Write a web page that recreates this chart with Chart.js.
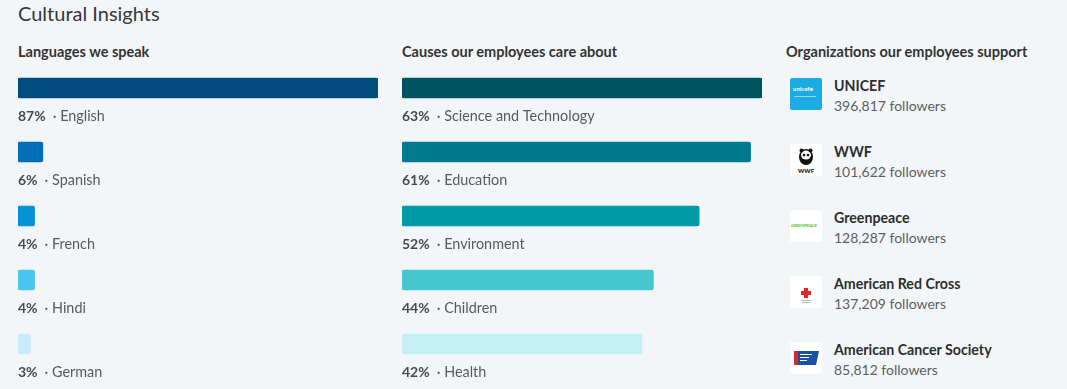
<!DOCTYPE html>
<html>
<head>
<meta charset="utf-8">
<script src="https://cdn.jsdelivr.net/npm/chart.js@4"></script>
<style>
  html, body { margin:0; padding:0; }
  body { width:1067px; height:389px; background:#f3f6f8; position:relative; overflow:hidden; font-family: Lato, "Noto Sans", sans-serif; color:#333; }
  .title { position:absolute; left:18px; top:0px; font-size:20px; line-height:26px; color:#383838; }
  .hdr { position:absolute; top:42px; font-size:14.5px; line-height:20px; font-weight:700; color:#333; }
  .chartbox { position:absolute; top:56px; width:360px; height:333px; }
  .org { position:absolute; left:790px; width:270px; height:40px; }
  .logo { position:absolute; left:0; top:0; width:32px; height:32px; background:#fff; border-radius:2px; overflow:hidden; }
  .oname { position:absolute; left:44px; top:-2px; font-size:14.2px; font-weight:700; line-height:20px; color:#2e2e2e; white-space:nowrap; }
  .ofol { position:absolute; left:44px; top:18px; font-size:14px; line-height:20px; color:#5e5e5e; white-space:nowrap; }
</style>
</head>
<body>
<div class="title">Cultural Insights</div>
<div class="hdr" style="left:18px">Languages we speak</div>
<div class="hdr" style="left:402px">Causes our employees care about</div>
<div class="hdr" style="left:786px">Organizations our employees support</div>
<div class="chartbox" style="left:18px"><canvas id="lang"></canvas></div>
<div class="chartbox" style="left:402px"><canvas id="cause"></canvas></div>
<div id="orgs"></div>
<script>
// ---- data ----
const languageNames = ['English', 'Spanish', 'French', 'Hindi', 'German'];
const languageShares = [87, 6, 4, 4, 3];
const causeNames = ['Science and Technology', 'Education', 'Environment', 'Children', 'Health'];
const causeShares = [63, 61, 52, 44, 42];
const orgNames = ['UNICEF', 'WWF', 'Greenpeace', 'American Red Cross', 'American Cancer Society'];
const orgFollowers = ['396,817', '101,622', '128,287', '137,209', '85,812'];

// ---- styles ----
const languageColors = ['#004b7f', '#006fb8', '#0392d3', '#47c6ef', '#c6ecfd'];
const causeColors = ['#005462', '#007a8c', '#0099a6', '#47c8d0', '#c4eff4'];
const FONT = 'Lato, "Noto Sans", sans-serif';

const labelPlugin = {
  id: 'barLabels',
  afterDatasetsDraw(chart) {
    const ctx = chart.ctx;
    const meta = chart.getDatasetMeta(0);
    const xs = chart.scales.x;
    const names = chart.data.labels;
    const vals = chart.data.datasets[0].data;
    ctx.save();
    ctx.textBaseline = 'middle';
    meta.data.forEach((bar, i) => {
      const y = bar.y + 28;
      const x = xs.left;
      ctx.font = '700 14px ' + FONT;
      ctx.fillStyle = '#4a4a4a';
      const p = vals[i] + '%';
      ctx.fillText(p, x, y);
      const w = ctx.measureText(p).width;
      ctx.font = '400 14.4px ' + FONT;
      ctx.fillStyle = '#5a5a5a';
      ctx.fillText('\u00b7 ' + names[i], x + w + 7, y);
    });
    ctx.restore();
  }
};

function makeChart(id, names, vals, colors) {
  return new Chart(document.getElementById(id), {
    type: 'bar',
    data: {
      labels: names,
      datasets: [{ data: vals, backgroundColor: colors, barThickness: 20, borderRadius: 2, borderSkipped: false }]
    },
    options: {
      indexAxis: 'y',
      responsive: true,
      maintainAspectRatio: false,
      animation: false,
      events: [],
      layout: { padding: { left: 0, right: 0, top: 0, bottom: 13 } },
      plugins: { legend: { display: false }, tooltip: { enabled: false } },
      scales: {
        x: { display: false, min: 0, max: Math.max(...vals) },
        y: { display: false }
      }
    },
    plugins: [labelPlugin]
  });
}

makeChart('lang', languageNames, languageShares, languageColors);
makeChart('cause', causeNames, causeShares, causeColors);

// ---- organizations list ----
const logos = [
  '<div style="position:absolute;inset:0;background:#1cabe2"></div><div style="position:absolute;left:3px;top:7px;font:700 6px Lato,sans-serif;color:#fff">unicef&#x25CF;</div><div style="position:absolute;left:4px;top:18px;width:22px;height:1px;background:rgba(255,255,255,.5)"></div>',
  '<svg width="32" height="32" viewBox="0 0 32 32"><ellipse cx="16" cy="13" rx="7" ry="8" fill="#111"/><ellipse cx="16" cy="11" rx="5" ry="4.5" fill="#fff"/><circle cx="14" cy="11" r="1.3" fill="#111"/><circle cx="18" cy="11" r="1.3" fill="#111"/><circle cx="11.5" cy="6.5" r="2" fill="#111"/><circle cx="20.5" cy="6.5" r="2" fill="#111"/><text x="16" y="29" font-family="Lato,sans-serif" font-weight="900" font-size="6" text-anchor="middle" fill="#111">WWF</text></svg>',
  '<div style="position:absolute;left:1px;top:13px;font:italic 700 4.5px Lato,sans-serif;color:#5fbf1f;letter-spacing:-0.1px">GREENPEACE</div>',
  '<svg width="32" height="32" viewBox="0 0 32 32"><rect x="14" y="12" width="4" height="10" fill="#e3242b"/><rect x="11" y="15" width="10" height="4" fill="#e3242b"/><rect x="11" y="24" width="10" height="1" fill="#bbb"/><rect x="12" y="26" width="8" height="1" fill="#bbb"/></svg>',
  '<svg width="32" height="32" viewBox="0 0 32 32"><rect x="4" y="9" width="4" height="14" fill="#d7282f"/><polygon points="8,9 29,9 26,23 8,23" fill="#1d4fa0"/><rect x="10" y="12" width="12" height="1" fill="#fff"/><rect x="10" y="15" width="9" height="1" fill="#fff"/><rect x="10" y="18" width="7" height="1" fill="#fff"/></svg>'
];
const orgs = document.getElementById('orgs');
orgNames.forEach((n, i) => {
  const d = document.createElement('div');
  d.className = 'org';
  d.style.top = (78 + 66 * i) + 'px';
  d.innerHTML = '<div class="logo">' + logos[i] + '</div><div class="oname">' + n + '</div><div class="ofol">' + orgFollowers[i] + ' followers</div>';
  orgs.appendChild(d);
});
</script>
</body>
</html>
